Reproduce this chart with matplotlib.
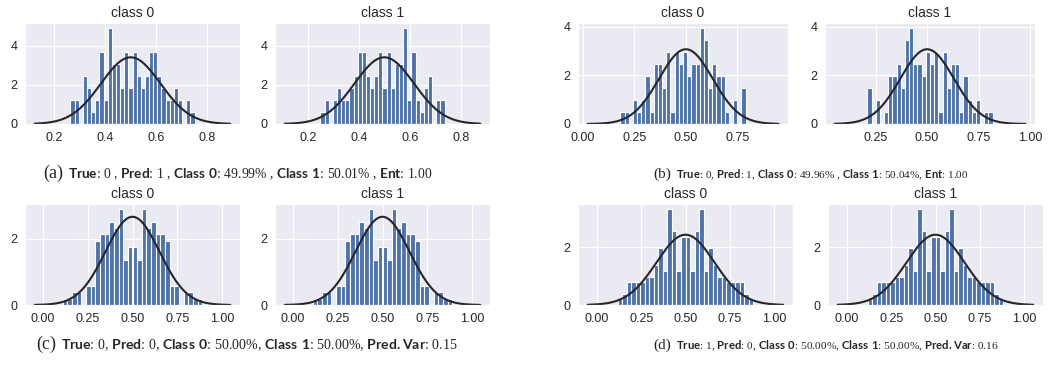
import numpy as np
import matplotlib
matplotlib.use('Agg')
import matplotlib.pyplot as plt
from matplotlib.ticker import MultipleLocator
import seaborn as sns

sns.set_style('darkgrid')
plt.rcParams['font.family'] = ['Liberation Sans', 'DejaVu Sans']
plt.rcParams['mathtext.fontset'] = 'custom'
plt.rcParams['mathtext.rm'] = 'Liberation Serif'
plt.rcParams['mathtext.bf'] = 'Lato:bold'

BAR_COLOR = '#4C72B0'
CURVE_COLOR = '#262626'

# sample counts per histogram bin (30 bins)
a_counts_0 = [2, 2, 0, 4, 3, 1, 2, 6, 2, 8, 5, 5, 3, 6, 3, 6, 4, 3, 4, 6, 6, 4, 3, 2, 2, 3, 2, 0, 2, 1]
a_counts_1 = [1, 2, 0, 2, 3, 2, 2, 3, 4, 6, 6, 4, 3, 4, 6, 3, 6, 3, 5, 5, 8, 2, 6, 2, 1, 3, 4, 0, 2, 2]
b_counts_0 = [1, 1, 0, 2, 1, 2, 4, 1, 5, 5, 3, 6, 1, 6, 5, 6, 4, 5, 5, 8, 7, 3, 5, 4, 4, 1, 0, 2, 0, 3]
b_counts_1 = [3, 0, 2, 0, 1, 4, 4, 5, 3, 7, 8, 5, 5, 4, 6, 5, 6, 1, 6, 3, 5, 5, 1, 4, 2, 1, 2, 0, 1, 1]
c_counts_0 = [1, 1, 2, 2, 0, 3, 3, 10, 11, 11, 13, 12, 15, 7, 9, 9, 7, 15, 12, 13, 11, 11, 10, 3, 3, 0, 2, 2, 1, 1]
c_counts_1 = [1, 1, 2, 2, 0, 3, 3, 10, 11, 11, 13, 12, 15, 7, 9, 9, 7, 15, 12, 13, 11, 11, 10, 3, 3, 0, 2, 2, 1, 1]
d_counts_0 = [1, 2, 4, 4, 4, 4, 5, 5, 7, 10, 6, 17, 13, 6, 12, 12, 6, 13, 17, 6, 10, 7, 5, 5, 4, 4, 4, 4, 2, 1]
d_counts_1 = [1, 2, 4, 4, 4, 4, 5, 5, 7, 10, 6, 17, 13, 6, 12, 12, 6, 13, 17, 6, 10, 7, 5, 5, 4, 4, 4, 4, 2, 1]

# histogram range (min, max of the samples)
a_range_0, a_range_1 = (0.263, 0.751), (0.249, 0.737)
b_range_0, b_range_1 = (0.182, 0.790), (0.210, 0.818)
c_range_0, c_range_1 = (0.112, 0.888), (0.112, 0.888)
d_range_0, d_range_1 = (0.117, 0.883), (0.117, 0.883)

# fitted normal curve: mean, std, support
a_fit = (0.5, 0.117)
b_fit = (0.5, 0.130)
c_fit = (0.5, 0.150)
d_fit = (0.5, 0.164)
a_support_0, a_support_1 = (0.123, 0.891), (0.109, 0.877)
b_support_0, b_support_1 = (0.023, 0.949), (0.051, 0.977)
c_support_0, c_support_1 = (-0.044, 1.044), (-0.044, 1.044)
d_support_0, d_support_1 = (-0.053, 1.053), (-0.053, 1.053)

class_titles = ['class 0', 'class 1']

captions = {
    'a': r'$\mathbf{True}$: 0 , $\mathbf{Pred}$: 1 , $\mathbf{Class\ 0}$: 49.99% , $\mathbf{Class\ 1}$: 50.01% , $\mathbf{Ent}$: 1.00',
    'b': r'$\mathbf{True}$: 0, $\mathbf{Pred}$: 1, $\mathbf{Class\ 0}$: 49.96% , $\mathbf{Class\ 1}$: 50.04%, $\mathbf{Ent}$: 1.00',
    'c': r'$\mathbf{True}$: 0, $\mathbf{Pred}$: 0, $\mathbf{Class\ 0}$: 50.00%, $\mathbf{Class\ 1}$: 50.00%, $\mathbf{Pred.Var}$: 0.15',
    'd': r'$\mathbf{True}$: 1, $\mathbf{Pred}$: 0, $\mathbf{Class\ 0}$: 50.00%, $\mathbf{Class\ 1}$: 50.00%, $\mathbf{Pred.Var}$: 0.16',
}

panels = {
    'a': dict(counts=[a_counts_0, a_counts_1], ranges=[a_range_0, a_range_1], fit=a_fit,
              support=[a_support_0, a_support_1], step=0.2),
    'b': dict(counts=[b_counts_0, b_counts_1], ranges=[b_range_0, b_range_1], fit=b_fit,
              support=[b_support_0, b_support_1], step=0.25),
    'c': dict(counts=[c_counts_0, c_counts_1], ranges=[c_range_0, c_range_1], fit=c_fit,
              support=[c_support_0, c_support_1], step=0.25),
    'd': dict(counts=[d_counts_0, d_counts_1], ranges=[d_range_0, d_range_1], fit=d_fit,
              support=[d_support_0, d_support_1], step=0.25),
}

W, H = 1053, 372
# axes boxes in pixels: (left, top, right, bottom)
boxes = {
    'a': [(25, 23, 240, 124), (275, 23, 490, 124)],
    'b': [(578, 23, 788, 124), (825, 23, 1035, 124)],
    'c': [(25, 204, 240, 305), (275, 204, 490, 305)],
    'd': [(578, 204, 793, 305), (828, 204, 1043, 305)],
}
# caption start (x px), baseline (y px), tag size, body size
caption_pos = {'a': (43, 178, 13, 9.8), 'b': (653, 178, 11, 8.1),
               'c': (36, 349, 13, 10.1), 'd': (653, 349, 11, 8.2)}

fig = plt.figure(figsize=(W / 100, H / 100), dpi=100)

for key, p in panels.items():
    mu, sd = p['fit']
    for i in range(2):
        l, t, r, b = boxes[key][i]
        ax = fig.add_axes([l / W, 1 - b / H, (r - l) / W, (b - t) / H])
        lo, hi = p['ranges'][i]
        edges = np.linspace(lo, hi, len(p['counts'][i]) + 1)
        centers = (edges[:-1] + edges[1:]) / 2
        ax.hist(centers, bins=edges, weights=p['counts'][i], density=True,
                color=BAR_COLOR, edgecolor='white', linewidth=0.8)
        xs = np.linspace(p['support'][i][0], p['support'][i][1], 200)
        ax.plot(xs, np.exp(-0.5 * ((xs - mu) / sd) ** 2) / (sd * np.sqrt(2 * np.pi)),
                color=CURVE_COLOR, linewidth=1.5)
        ax.xaxis.set_major_locator(MultipleLocator(p['step']))
        ax.yaxis.set_major_locator(MultipleLocator(2))
        ax.tick_params(labelsize=9, pad=2, colors='#262626')
        ax.set_title(class_titles[i], fontsize=10, pad=4, color='#262626')

renderer = fig.canvas.get_renderer()
for key, text in captions.items():
    x, y, tag_size, body_size = caption_pos[key]
    tag = fig.text(x / W, 1 - y / H, '(%s)' % key, family='Liberation Serif',
                   fontsize=tag_size, va='baseline', ha='left')
    bb = tag.get_window_extent(renderer=renderer)
    fig.text(bb.x1 / W + 0.005, 1 - y / H, text, family='Liberation Serif',
             fontsize=body_size, va='baseline', ha='left')

fig.savefig('out.png', dpi=100)
